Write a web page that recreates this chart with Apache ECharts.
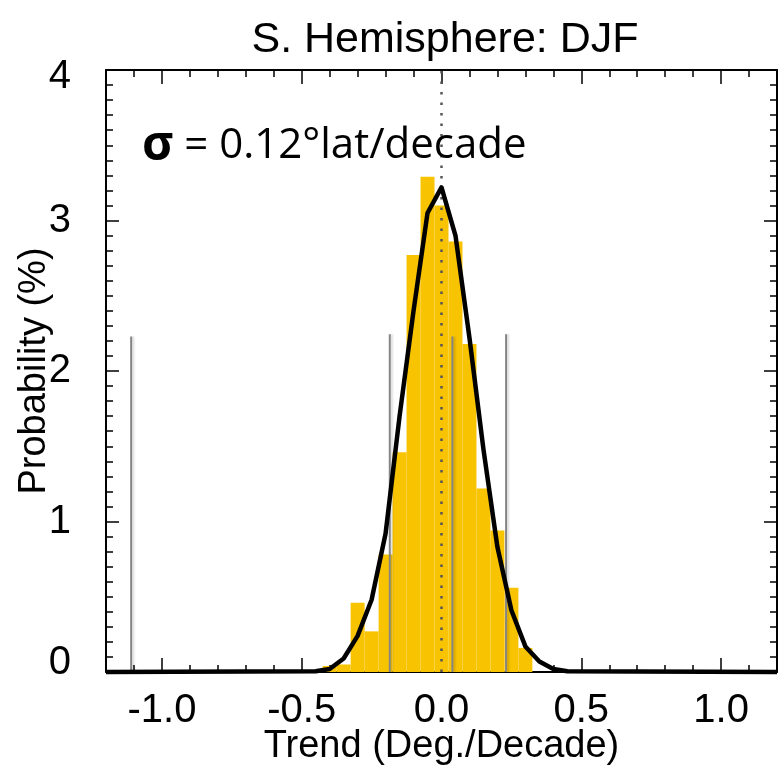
<!DOCTYPE html>
<html>
<head>
<meta charset="utf-8">
<script src="https://cdn.jsdelivr.net/npm/echarts@6/dist/echarts.min.js"></script>
<style>
  html, body { margin: 0; padding: 0; background: #fff; }
  #chart { width: 780px; height: 771px; }
</style>
</head>
<body>
<div id="chart"></div>
<script>
// histogram of trends (bin centres, % probability)
var binWidth = 0.05
var binCenters = [-0.4, -0.35, -0.3, -0.25, -0.2, -0.15, -0.1, -0.05, 0, 0.05, 0.1, 0.15, 0.2, 0.25, 0.3]
var binProb = [0.04, 0.05, 0.46, 0.27, 0.78, 1.46, 2.77, 3.29, 3.10, 2.86, 2.18, 1.22, 0.94, 0.56, 0.16]

// fitted curve
var curveX = [-1.2, -0.45, -0.4, -0.35, -0.3, -0.25, -0.2, -0.15, -0.1, -0.05, 0, 0.05, 0.1, 0.15, 0.2, 0.25, 0.3, 0.35, 0.4, 0.45, 1.2]
var curveY = [0, 0.005, 0.02, 0.09, 0.24, 0.48, 0.92, 1.70, 2.40, 3.05, 3.22, 2.90, 2.22, 1.48, 0.83, 0.41, 0.17, 0.07, 0.02, 0.005, 0]

// grey reference trends
var refX = [-1.11, -0.185, 0.039, 0.231]
var refH = [2.23, 2.245, 2.23, 2.245]

var xMajor = [-1.0, -0.5, 0.0, 0.5, 1.0]

var chart = echarts.init(document.getElementById('chart'))
var font = 'Liberation Sans, Arial, Helvetica, sans-serif'
var black = '#000'

function isMajor(v) {
  return Math.abs(v * 2 - Math.round(v * 2)) < 1e-6
}

var xBase = {
  min: -1.2, max: 1.2, type: 'value',
  splitLine: { show: false }
}
var tickStyle = { color: black, width: 1.5 }

var option = {
  animation: false,
  title: [
    {
      text: 'S. Hemisphere: DJF',
      left: 440, top: 14, textAlign: 'center',
      textStyle: { fontFamily: font, fontSize: 43, fontWeight: 'normal', color: black }
    },
    {
      text: '{s|σ} = 0.12°lat/decade',
      left: 137, top: 117,
      textStyle: {
        fontFamily: 'Open Sans, sans-serif', fontSize: 42, fontWeight: 'normal', color: black,
        rich: { s: { fontFamily: 'Open Sans, sans-serif', fontSize: 48, fontWeight: 'bold', color: black } }
      }
    }
  ],
  grid: { left: 106, right: 1, top: 70, bottom: 97, containLabel: false },
  xAxis: [
    Object.assign({}, xBase, {
      position: 'bottom', interval: 0.1,
      name: 'Trend (Deg./Decade)', nameLocation: 'middle', nameGap: 56, nameMoveOverlap: false,
      nameTextStyle: { fontFamily: font, fontSize: 38, color: black },
      axisLine: { onZero: false, lineStyle: { color: black, width: 2 } },
      axisTick: { inside: true, length: 7, lineStyle: tickStyle },
      axisLabel: {
        margin: 19, fontFamily: font, fontSize: 40, color: black,
        formatter: function (v) { return isMajor(v) ? v.toFixed(1) : '' }
      }
    }),
    Object.assign({}, xBase, {
      position: 'bottom',
      axisLine: { show: false, onZero: false },
      axisTick: { inside: true, length: 14, customValues: xMajor, lineStyle: tickStyle },
      axisLabel: { show: false }
    }),
    Object.assign({}, xBase, {
      position: 'top', interval: 0.1,
      axisLine: { onZero: false, lineStyle: { color: black, width: 2 } },
      axisTick: { inside: true, length: 7, lineStyle: tickStyle },
      axisLabel: { show: false }
    }),
    Object.assign({}, xBase, {
      position: 'top',
      axisLine: { show: false, onZero: false },
      axisTick: { inside: true, length: 14, customValues: xMajor, lineStyle: tickStyle },
      axisLabel: { show: false }
    })
  ],
  yAxis: [
    {
      type: 'value', min: 0, max: 4, interval: 1, position: 'left',
      name: 'Probability (%)', nameLocation: 'middle', nameGap: 52, nameMoveOverlap: false,
      nameTextStyle: { fontFamily: font, fontSize: 38, color: black },
      splitLine: { show: false },
      axisLine: { show: true, onZero: false, lineStyle: { color: black, width: 2 } },
      axisTick: { show: true, inside: true, length: 13, lineStyle: tickStyle },
      minorTick: { show: true, splitNumber: 10, length: 7, lineStyle: tickStyle },
      axisLabel: {
        margin: 35, fontFamily: font, fontSize: 40, color: black,
        formatter: function (v) {
          if (v === 0) return '{lo|0}'
          if (v === 4) return '{hi|4}'
          return String(v)
        },
        rich: {
          lo: { fontFamily: font, fontSize: 40, color: black, padding: [0, 0, 18, 0] },
          hi: { fontFamily: font, fontSize: 40, color: black, padding: [14, 0, 0, 0] }
        }
      }
    },
    {
      type: 'value', min: 0, max: 4, interval: 1, position: 'right',
      splitLine: { show: false },
      axisLine: { show: true, onZero: false, lineStyle: { color: black, width: 2 } },
      axisTick: { show: true, inside: true, length: 13, lineStyle: tickStyle },
      minorTick: { show: true, splitNumber: 10, length: 7, lineStyle: tickStyle },
      axisLabel: { show: false }
    }
  ],
  series: [
    {
      // histogram
      type: 'custom',
      xAxisIndex: 0, yAxisIndex: 0,
      data: binCenters.map(function (c, i) { return [c, binProb[i]] }),
      renderItem: function (params, api) {
        var c = api.value(0)
        var p0 = api.coord([c - binWidth / 2, api.value(1)])
        var p1 = api.coord([c + binWidth / 2, 0])
        return {
          type: 'rect',
          shape: { x: p0[0], y: p0[1], width: p1[0] - p0[0], height: p1[1] - p0[1] },
          style: { fill: '#F8C300' }
        }
      },
      z: 2
    },
    {
      // dotted zero line
      type: 'custom',
      xAxisIndex: 0, yAxisIndex: 0,
      data: [[0, 4]],
      renderItem: function (params, api) {
        var a = api.coord([api.value(0), 0])
        var b = api.coord([api.value(0), api.value(1)])
        return {
          type: 'line',
          shape: { x1: a[0], y1: a[1], x2: b[0], y2: b[1] },
          style: { stroke: '#555', lineWidth: 2.5, lineDash: [2.5, 8] }
        }
      },
      z: 3
    },
    {
      // grey reference lines
      type: 'custom',
      xAxisIndex: 0, yAxisIndex: 0,
      data: refX.map(function (x, i) { return [x, refH[i]] }),
      renderItem: function (params, api) {
        var a = api.coord([api.value(0), 0])
        var b = api.coord([api.value(0), api.value(1)])
        return {
          type: 'line',
          shape: { x1: a[0], y1: a[1], x2: b[0], y2: b[1] },
          style: { stroke: '#858585', lineWidth: 2, shadowColor: 'rgba(0,0,0,0.15)', shadowBlur: 2, shadowOffsetX: 2 }
        }
      },
      z: 4
    },
    {
      type: 'line',
      xAxisIndex: 0, yAxisIndex: 0,
      data: curveX.map(function (x, i) { return [x, curveY[i]] }),
      symbol: 'none',
      clip: false,
      lineStyle: { color: black, width: 4.5, join: 'round' },
      z: 5
    }
  ]
}

chart.setOption(option)
</script>
</body>
</html>
